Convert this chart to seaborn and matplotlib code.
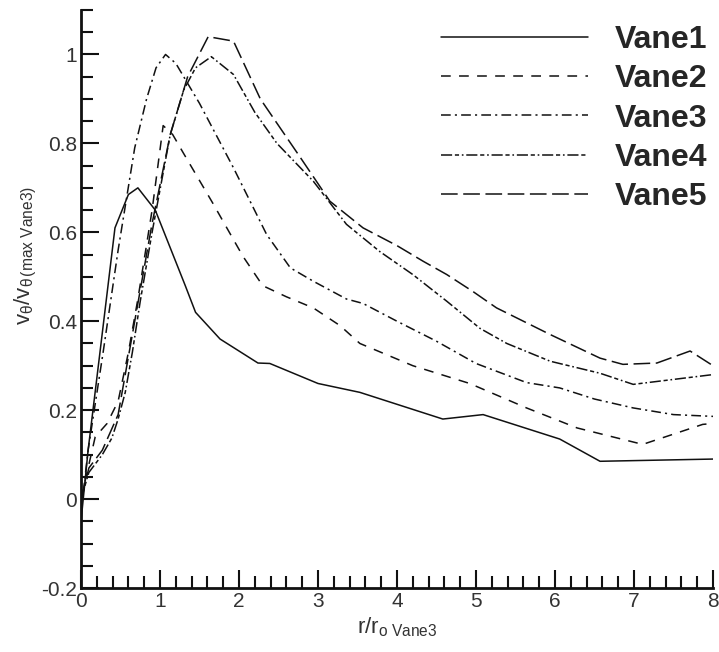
import numpy as np
import pandas as pd
import matplotlib
matplotlib.use("Agg")
import matplotlib.pyplot as plt
from matplotlib.ticker import MultipleLocator
import seaborn as sns

# ---- data ----
series_names = ["Vane1", "Vane2", "Vane3", "Vane4", "Vane5"]

vane1_x = [0.0, 0.09, 0.24, 0.43, 0.6, 0.72, 0.94, 1.32, 1.45, 1.76, 2.24, 2.39, 3.0, 3.53, 4.58, 5.09, 6.06, 6.57, 8.0]
vane1_y = [-0.05, 0.11, 0.33, 0.61, 0.685, 0.70, 0.65, 0.48, 0.42, 0.36, 0.306, 0.305, 0.26, 0.24, 0.18, 0.19, 0.135, 0.085, 0.09]

vane2_x = [0.0, 0.18, 0.33, 0.47, 0.6, 0.72, 0.9, 1.04, 1.16, 1.29, 1.67, 2.05, 2.3, 2.6, 2.94, 3.28, 3.53, 4.2, 4.92, 5.64, 6.28, 7.11, 7.87, 8.0]
vane2_y = [0.0, 0.14, 0.17, 0.22, 0.33, 0.45, 0.65, 0.84, 0.82, 0.78, 0.665, 0.546, 0.48, 0.455, 0.43, 0.39, 0.35, 0.30, 0.26, 0.205, 0.16, 0.123, 0.168, 0.17]

vane3_x = [0.0, 0.09, 0.28, 0.47, 0.68, 0.83, 0.95, 1.07, 1.2, 1.5, 1.93, 2.35, 2.65, 2.94, 3.36, 3.57, 4.0, 4.5, 5.0, 5.64, 6.06, 6.5, 6.99, 7.5, 8.0]
vane3_y = [-0.03, 0.11, 0.33, 0.56, 0.79, 0.9, 0.97, 1.0, 0.98, 0.89, 0.745, 0.595, 0.52, 0.49, 0.45, 0.44, 0.40, 0.355, 0.305, 0.262, 0.25, 0.225, 0.205, 0.19, 0.186]

vane4_x = [0.0, 0.1, 0.27, 0.39, 0.47, 0.56, 0.65, 0.75, 0.9, 1.13, 1.3, 1.45, 1.65, 1.93, 2.2, 2.48, 2.94, 3.36, 3.78, 4.2, 4.63, 5.05, 5.39, 5.94, 6.57, 6.99, 8.0]
vane4_y = [0.0, 0.06, 0.10, 0.137, 0.18, 0.24, 0.33, 0.445, 0.6, 0.82, 0.92, 0.97, 0.995, 0.955, 0.87, 0.80, 0.715, 0.618, 0.557, 0.505, 0.445, 0.384, 0.35, 0.31, 0.283, 0.258, 0.28]

vane5_x = [0.0, 0.1, 0.27, 0.47, 0.6, 0.72, 0.9, 1.13, 1.35, 1.61, 1.93, 2.27, 2.77, 3.15, 3.57, 4.0, 4.33, 4.63, 4.96, 5.26, 5.94, 6.57, 6.86, 7.29, 7.71, 8.0]
vane5_y = [0.0, 0.07, 0.11, 0.19, 0.32, 0.44, 0.62, 0.82, 0.95, 1.04, 1.03, 0.90, 0.77, 0.67, 0.61, 0.57, 0.535, 0.505, 0.467, 0.43, 0.37, 0.317, 0.303, 0.306, 0.333, 0.30]

x_ticks = [0, 1, 2, 3, 4, 5, 6, 7, 8]
x_tick_labels = ["0", "1", "2", "3", "4", "5", "6", "7", "8"]
y_ticks = [-0.2, 0.0, 0.2, 0.4, 0.6, 0.8, 1.0]
y_tick_labels = ["-0.2", "0", "0.2", "0.4", "0.6", "0.8", "1"]

xs = [vane1_x, vane2_x, vane3_x, vane4_x, vane5_x]
ys = [vane1_y, vane2_y, vane3_y, vane4_y, vane5_y]
frames = []
for name, x, y in zip(series_names, xs, ys):
    frames.append(pd.DataFrame({"r": x, "v": y, "series": name}))
df = pd.concat(frames, ignore_index=True)

# ---- style ----
sns.set_style("ticks")
plt.rcParams["font.family"] = ["Liberation Sans", "DejaVu Sans"]
plt.rcParams["mathtext.fontset"] = "custom"
plt.rcParams["mathtext.rm"] = "Liberation Sans"
plt.rcParams["mathtext.it"] = "Liberation Sans"
plt.rcParams["lines.scale_dashes"] = False

fig = plt.figure(figsize=(7.19, 6.52), dpi=100)
ax = fig.add_axes([81/719, 1 - 588/652, (713 - 81)/719, (588 - 10)/652])

dash_styles = {
    "Vane1": "",
    "Vane2": (7, 6),
    "Vane3": (7, 3, 1.5, 3),
    "Vane4": (8, 2, 3, 2, 1.2, 2),
    "Vane5": (12, 4),
}
palette = {n: "#111111" for n in series_names}

sns.lineplot(data=df, x="r", y="v", hue="series", style="series",
             hue_order=series_names, style_order=series_names,
             palette=palette, dashes=dash_styles, sort=False,
             estimator=None, linewidth=1.1, legend=False, ax=ax)

ax.set_xlim(0, 8)
ax.set_ylim(-0.2, 1.1)
ax.set_xticks(x_ticks)
ax.set_xticklabels(x_tick_labels)
ax.set_yticks(y_ticks)
ax.set_yticklabels(y_tick_labels)
ax.xaxis.set_minor_locator(MultipleLocator(0.2))
ax.yaxis.set_minor_locator(MultipleLocator(0.05))

ax.tick_params(axis="both", which="major", direction="in", length=13, width=1.5,
               labelsize=15, colors="#111111", labelcolor="#333333", pad=3)
ax.tick_params(axis="both", which="minor", direction="in", length=8.5, width=1.5, colors="#111111")
sns.despine(ax=ax)
for s in ["left", "bottom"]:
    ax.spines[s].set_linewidth(2)
    ax.spines[s].set_color("#111111")

ax.set_xlabel(r"r/r$_{\rm o\ Vane3}$", fontsize=16, color="#333333", labelpad=3)
ax.set_ylabel(r"v$_{\theta}$/v$_{\theta\,\rm (max\ Vane3)}$", fontsize=16, color="#333333", labelpad=0)
ax.yaxis.set_label_coords(-0.067, 0.575)

lines = ax.get_lines()[:5]
ax.legend(lines, series_names, loc="upper left", bbox_to_anchor=(441/719, 1 - 25/652),
          bbox_transform=fig.transFigure, frameon=False, handlelength=4.6,
          handletextpad=0.85, labelspacing=0.29, borderpad=0, borderaxespad=0,
          prop={"weight": "bold", "size": 23})

fig.savefig("out.png", dpi=100)
